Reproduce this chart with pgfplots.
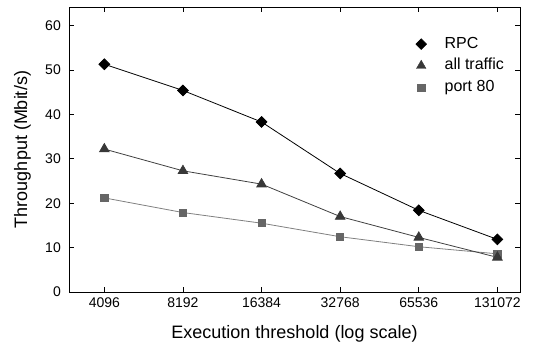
\documentclass[border=0pt]{standalone}
\usepackage{fontspec}
\setmainfont{Liberation Sans}
\usepackage{pgfplots}
\pgfplotsset{compat=1.18}

\definecolor{rpcc}{gray}{0.0}
\definecolor{allc}{gray}{0.22}
\definecolor{allline}{gray}{0.25}
\definecolor{p80c}{gray}{0.40}
\definecolor{p80line}{gray}{0.50}

\begin{document}
\begin{tikzpicture}
\begin{axis}[
  name=ax,
  scale only axis,
  width=451bp, height=285bp,
  xmode=log, log basis x=2,
  xmin=3000, xmax=160000,
  ymin=0, ymax=64.2,
  xtick={4096,8192,16384,32768,65536,131072},
  xticklabels={4096,8192,16384,32768,65536,131072},
  ytick={0,10,20,30,40,50,60},
  minor tick num=0,
  tick align=inside,
  major tick length=5bp,
  tick style={black, line width=0.8bp},
  axis line style={black, line width=0.9bp},
  /pgf/number format/assume math mode=true,
  tick label style={font=\fontsize{14bp}{16bp}\selectfont},
  yticklabel style={inner sep=0pt, xshift=-8bp},
  xticklabel style={inner sep=0pt, yshift=-6bp, anchor=north},
  xlabel={Execution threshold (log scale)},
  ylabel={Throughput (Mbit/s)},
  label style={font=\fontsize{18bp}{21bp}\selectfont},
  xlabel style={at={(axis description cs:0.5,-0.147)}, anchor=center},
  ylabel style={at={(axis description cs:-0.103,0.5)}, anchor=center},
  legend style={
    draw=none, fill=none,
    at={(axis description cs:0.762,0.902)}, anchor=north west,
    font=\fontsize{16bp}{18bp}\selectfont,
    nodes={inner sep=0pt, text height=11bp, text depth=3bp, anchor=west},
    row sep=7.6bp, column sep=18bp,
  },
  legend cell align=left,
]
\addlegendimage{only marks, mark=square*, mark options={rotate=45, fill=rpcc, draw=rpcc}, mark size=3.8bp}
\addlegendentry{RPC}
\addlegendimage{only marks, mark=triangle*, mark options={fill=allc, draw=allc}, mark size=5.5bp}
\addlegendentry{all traffic}
\addlegendimage{only marks, mark=square*, mark options={fill=p80c, draw=p80c}, mark size=3.6bp}
\addlegendentry{port 80}

% port 80
\addplot[p80line, line width=0.8bp, mark=square*, mark size=3.6bp,
  mark options={fill=p80c, draw=p80c}] coordinates {
  (4096,21.2) (8192,17.9) (16384,15.5) (32768,12.45) (65536,10.2) (131072,8.6)
};
% all traffic
\addplot[allline, line width=0.8bp, mark=triangle*, mark size=5.5bp,
  mark options={fill=allc, draw=allc}] coordinates {
  (4096,32.2) (8192,27.3) (16384,24.3) (32768,17.0) (65536,12.3) (131072,7.8)
};
% RPC
\addplot[rpcc, line width=0.8bp, mark=square*, mark size=3.8bp,
  mark options={rotate=45, fill=rpcc, draw=rpcc}] coordinates {
  (4096,51.3) (8192,45.4) (16384,38.3) (32768,26.7) (65536,18.4) (131072,11.85)
};
\end{axis}
\pgfresetboundingbox
\path ([xshift=-69bp,yshift=-53bp]ax.south west) rectangle ([xshift=13bp,yshift=7bp]ax.north east);
\end{tikzpicture}
\end{document}
